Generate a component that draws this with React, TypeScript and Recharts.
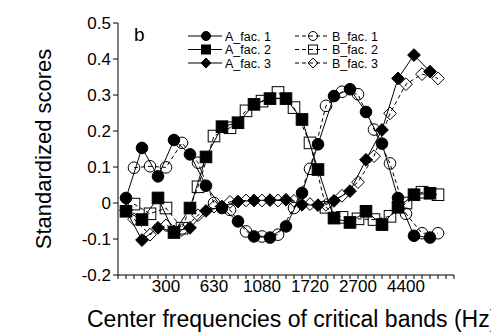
import React from "react";
import { LineChart, Line, XAxis, YAxis } from "recharts";

// critical band number 1..20 (Bark); A factors sit at band centres, B factors half a band later
const bands = [1, 2, 3, 4, 5, 6, 7, 8, 9, 10, 11, 12, 13, 14, 15, 16, 17, 18, 19, 20];
const edgeTicks = [3, 6, 9, 12, 15, 18];
const edgeLabels = ["300", "630", "1080", "1720", "2700", "4400"];
const yTicks = [-0.2, -0.1, 0, 0.1, 0.2, 0.3, 0.4, 0.5];

const aFac1 = [0.014, 0.153, 0.074, 0.175, 0.135, 0.048, -0.014, -0.051, -0.093, -0.096, -0.065, 0.028, 0.163, 0.297, 0.316, 0.253, 0.165, 0.014, -0.091, -0.096];
const aFac2 = [-0.023, -0.046, 0.014, -0.082, -0.014, 0.128, 0.212, 0.223, 0.274, 0.29, 0.29, 0.232, 0.093, -0.042, -0.054, -0.023, -0.06, -0.012, 0.023, 0.027];
const aFac3 = [-0.02, -0.103, -0.069, -0.079, -0.069, -0.022, -0.01, 0.004, 0.007, 0.008, 0.009, -0.005, -0.006, 0.006, 0.033, 0.12, 0.203, 0.346, 0.411, 0.365];
const bFac1 = [0.098, 0.102, 0.099, 0.167, 0.112, 0.0, -0.019, -0.079, -0.093, -0.088, -0.014, 0.095, 0.27, 0.309, 0.302, 0.204, 0.11, -0.03, -0.084, -0.084];
const bFac2 = [-0.003, -0.03, -0.014, -0.07, 0.045, 0.186, 0.209, 0.256, 0.283, 0.307, 0.265, 0.167, -0.012, -0.04, -0.044, -0.046, -0.037, 0.0, 0.03, 0.023];
const bFac3 = [-0.045, -0.088, -0.062, -0.075, -0.034, -0.01, 0.003, 0.007, 0.007, 0.007, 0.006, -0.003, -0.005, 0.02, 0.058, 0.13, 0.249, 0.33, 0.358, 0.346];

const aRows = bands.map((b, i) => ({ x: b - 0.5, f1: aFac1[i], f2: aFac2[i], f3: aFac3[i] }));
const bRows = bands.map((b, i) => ({ x: b, f1: bFac1[i], f2: bFac2[i], f3: bFac3[i] }));

const minorTicks: number[] = [];
for (let t = 0; t <= 21; t += 0.5) minorTicks.push(t);

const FONT = "'Liberation Sans', Arial, Helvetica, sans-serif";

type Shape = "circle" | "square" | "diamond";

const Mark = ({ cx, cy, shape, filled, r }: { cx: number; cy: number; shape: Shape; filled: boolean; r: number }) => {
  const fill = filled ? "#000" : "none";
  if (shape === "circle") return <circle cx={cx} cy={cy} r={r} fill={fill} stroke="#000" strokeWidth={1} />;
  if (shape === "square")
    return <rect x={cx - r} y={cy - r} width={r * 2} height={r * 2} fill={fill} stroke="#000" strokeWidth={1} />;
  const d = r * 1.1;
  return (
    <polygon
      points={`${cx},${cy - d} ${cx + d},${cy} ${cx},${cy + d} ${cx - d},${cy}`}
      fill={fill}
      stroke="#000"
      strokeWidth={1}
    />
  );
};

const dotFor = (shape: Shape, filled: boolean) => (props: any) => {
  const { cx, cy, index } = props;
  return (
    <g key={`${shape}-${filled}-${index}`}>
      <Mark cx={cx} cy={cy} shape={shape} filled={filled} r={5.8} />
    </g>
  );
};

const legendItems = [
  { label: "A_fac. 1", shape: "circle" as Shape, filled: true },
  { label: "A_fac. 2", shape: "square" as Shape, filled: true },
  { label: "A_fac. 3", shape: "diamond" as Shape, filled: true },
  { label: "B_fac. 1", shape: "circle" as Shape, filled: false },
  { label: "B_fac. 2", shape: "square" as Shape, filled: false },
  { label: "B_fac. 3", shape: "diamond" as Shape, filled: false },
];

const Overlay = () => (
  <svg width={491} height={335} style={{ position: "absolute", left: 0, top: 0, pointerEvents: "none" }}>
    <text x={134} y={41} fontSize={19} fontFamily={FONT} fill="#000">
      b
    </text>
    {legendItems.map((it, i) => {
      const col = i < 3 ? 0 : 1;
      const row = i % 3;
      const x0 = col === 0 ? 188 : 295;
      const y = 36 + row * 13.5;
      return (
        <g key={it.label}>
          <line
            x1={x0}
            x2={x0 + 34}
            y1={y}
            y2={y}
            stroke="#000"
            strokeWidth={1}
            strokeDasharray={it.filled ? undefined : "4 3"}
          />
          <Mark cx={x0 + 18} cy={y} shape={it.shape} filled={it.filled} r={4.5} />
          <text x={x0 + 37} y={y + 4.5} fontSize={12.5} fontFamily={FONT} fill="#000">
            {it.label}
          </text>
        </g>
      );
    })}
    <text x={87} y={327} fontSize={23} fontFamily={FONT} fill="#000">
      Center frequencies of critical bands (Hz)
    </text>
    <text
      x={0}
      y={0}
      fontSize={22}
      fontFamily={FONT}
      textAnchor="middle"
      fill="#000"
      transform="translate(51 149) rotate(-90)"
    >
      Standardized scores
    </text>
  </svg>
);

const xLabel = (v: number) => {
  const k = edgeTicks.indexOf(v);
  return k >= 0 ? edgeLabels[k] : "";
};

export default function App() {
  return (
    <div style={{ position: "fixed", left: 0, top: 0, width: 491, height: 335, background: "#fff", overflow: "hidden" }}>
      <LineChart width={491} height={335} data={aRows} margin={{ top: 23, right: 37, bottom: 0, left: 0 }}>
        <XAxis
          dataKey="x"
          type="number"
          domain={[0, 21]}
          ticks={minorTicks}
          interval={0}
          tickFormatter={xLabel}
          height={60}
          tickSize={4}
          tickMargin={1}
          stroke="#000"
          tick={{ fill: "#000", fontSize: 17, fontFamily: FONT }}
          allowDataOverflow
        />
        <YAxis
          type="number"
          domain={[-0.2, 0.5]}
          ticks={yTicks}
          interval={0}
          width={118}
          tickSize={5}
          tickMargin={2}
          stroke="#000"
          tickFormatter={(v: number) => (v === 0 ? "0" : v.toFixed(1))}
          tick={{ fill: "#000", fontSize: 17, fontFamily: FONT }}
          allowDataOverflow
        />
        <Line data={bRows} dataKey="f1" stroke="#000" strokeWidth={1} strokeDasharray="4 3" dot={dotFor("circle", false)} isAnimationActive={false} />
        <Line data={bRows} dataKey="f2" stroke="#000" strokeWidth={1} strokeDasharray="4 3" dot={dotFor("square", false)} isAnimationActive={false} />
        <Line data={bRows} dataKey="f3" stroke="#000" strokeWidth={1} strokeDasharray="4 3" dot={dotFor("diamond", false)} isAnimationActive={false} />
        <Line data={aRows} dataKey="f1" stroke="#000" strokeWidth={1} dot={dotFor("circle", true)} isAnimationActive={false} />
        <Line data={aRows} dataKey="f2" stroke="#000" strokeWidth={1} dot={dotFor("square", true)} isAnimationActive={false} />
        <Line data={aRows} dataKey="f3" stroke="#000" strokeWidth={1} dot={dotFor("diamond", true)} isAnimationActive={false} />
      </LineChart>
      <Overlay />
    </div>
  );
}
